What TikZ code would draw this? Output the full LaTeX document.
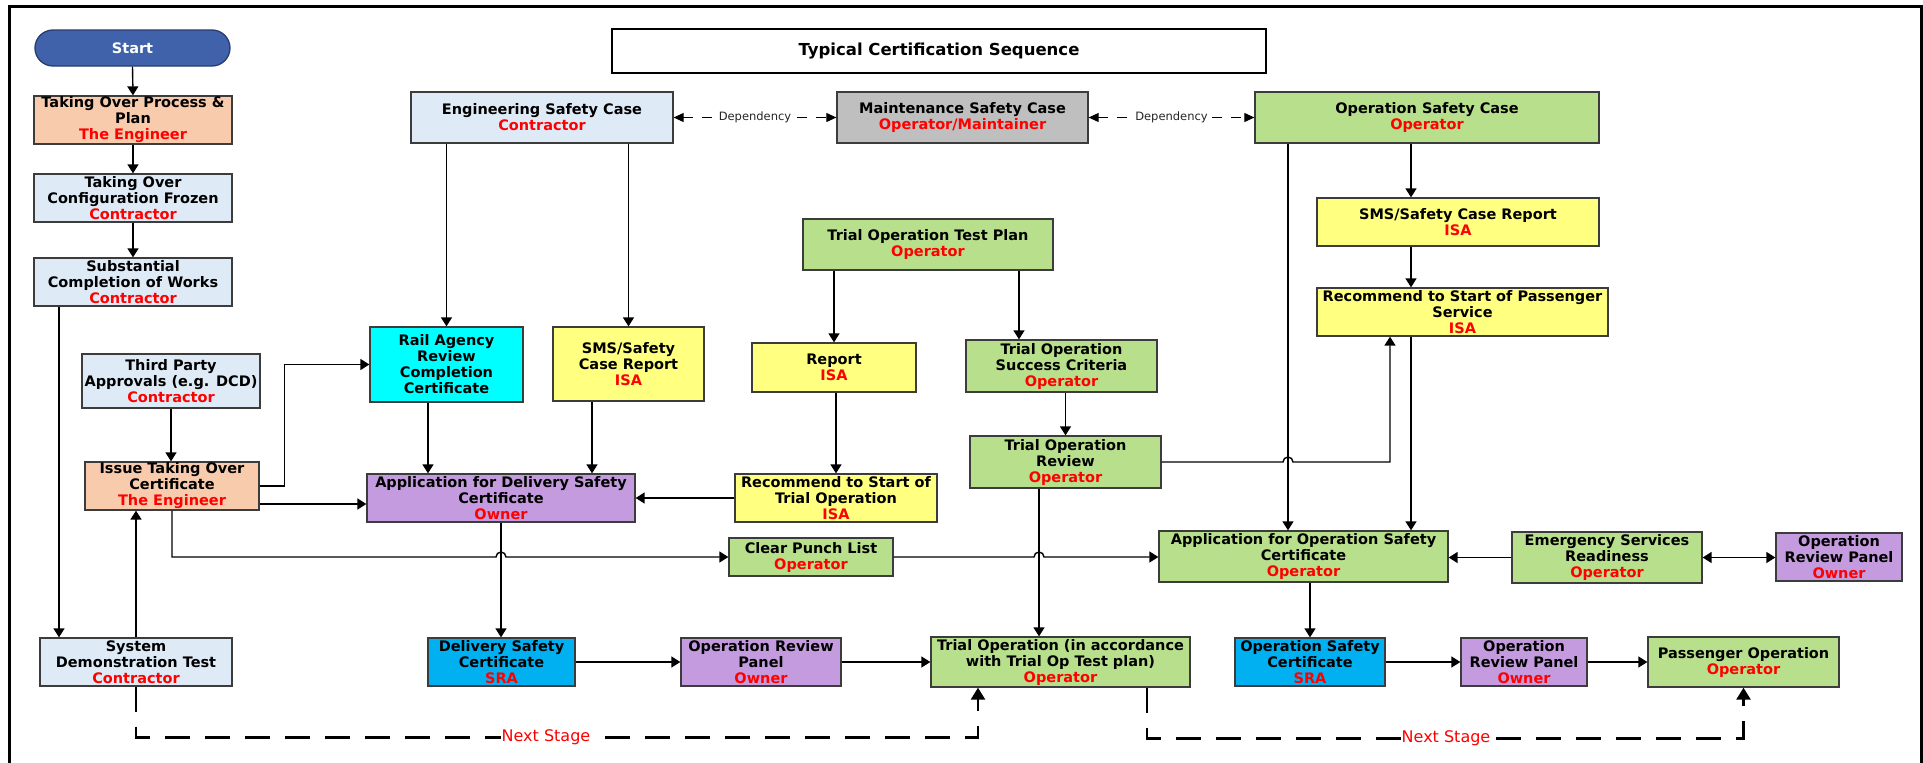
\documentclass[tikz,border=0pt]{standalone}
\usepackage{fontspec}
\setmainfont{DejaVu Sans}
\usetikzlibrary{arrows.meta,calc}
\definecolor{peach}{RGB}{248,203,173}
\definecolor{lblue}{RGB}{222,235,247}
\definecolor{cyanbox}{RGB}{0,255,255}
\definecolor{ybox}{RGB}{255,255,128}
\definecolor{pbox}{RGB}{195,155,222}
\definecolor{gbox}{RGB}{184,224,140}
\definecolor{graybox}{RGB}{191,191,191}
\definecolor{certblue}{RGB}{0,176,240}
\definecolor{startblue}{RGB}{64,98,170}
\definecolor{startline}{RGB}{40,60,110}
\definecolor{boxline}{RGB}{60,60,60}
\newcommand{\who}[1]{\textcolor{red}{#1}}
\tikzset{
  box/.style={draw=boxline, line width=1.3pt, inner sep=0pt, align=center,
    font=\fontsize{14.5}{16}\selectfont\bfseries},
  arr/.style={line width=1.4pt, -{Triangle[length=9pt,width=11pt]}},
  darr/.style={line width=1.4pt, {Triangle[length=9pt,width=11pt]}-{Triangle[length=9pt,width=11pt]}},
  dep/.style={line width=1pt, dash pattern=on 10pt off 9pt,
    {Triangle[length=10pt,width=9pt]}-{Triangle[length=10pt,width=9pt]}},
  deptext/.style={fill=white, inner xsep=1pt, inner ysep=1pt, text=black!85,
    font=\fontsize{11.5}{13}\selectfont},
  nextstage/.style={line width=2.5pt, dash pattern=on 25pt off 15pt,
    -{Triangle[length=12pt,width=14pt]}},
  nstext/.style={fill=white, inner xsep=1pt, inner ysep=1pt, text=red,
    font=\fontsize{16}{18}\selectfont},
}
\begin{document}
\begin{tikzpicture}[x=1pt,y=-1pt]
\useasboundingbox (0,0) rectangle (1923,763);
% outer frame
\draw[line width=3pt] (9.5,775) -- (9.5,6) -- (1921,6) -- (1921,775);

% title
\node[draw, line width=2.5pt, minimum width=654pt, minimum height=44pt, inner sep=0pt,
  font=\fontsize{16.5}{18}\selectfont\bfseries] (title) at (939,51) {Typical Certification Sequence};

% left column
\node[draw=startline, line width=1.3pt, fill=startblue, rounded corners=18pt,
  minimum width=195pt, minimum height=36pt, inner sep=0pt, text=white,
  font=\fontsize{14.5}{16}\selectfont\bfseries] (start) at (132.5,48) {Start};
\node[box, fill=peach, minimum width=198pt, minimum height=48pt] (topp) at (133,120)
  {Taking Over Process \&\\Plan\\\who{The Engineer}};
\node[box, fill=lblue, minimum width=198pt, minimum height=48pt] (tocf) at (133,198)
  {Taking Over\\Configuration Frozen\\\who{Contractor}};
\node[box, fill=lblue, minimum width=198pt, minimum height=48pt] (scw) at (133,282)
  {Substantial\\Completion of Works\\\who{Contractor}};
\node[box, fill=lblue, minimum width=178pt, minimum height=54pt] (tpa) at (171,381)
  {Third Party\\Approvals (e.g. DCD)\\\who{Contractor}};
\node[box, fill=peach, minimum width=174pt, minimum height=48pt] (itoc) at (172,486)
  {Issue Taking Over\\Certificate\\\who{The Engineer}};
\node[box, fill=lblue, minimum width=192pt, minimum height=48pt] (sdt) at (136,662)
  {System\\Demonstration Test\\\who{Contractor}};

% top row
\node[box, fill=lblue, minimum width=262pt, minimum height=51pt] (eng) at (542,117.5)
  {Engineering Safety Case\\\who{Contractor}};
\node[box, fill=graybox, minimum width=251pt, minimum height=51pt] (maint) at (962.5,117.5)
  {Maintenance Safety Case\\\who{Operator/Maintainer}};
\node[box, fill=gbox, minimum width=344pt, minimum height=51pt] (osc) at (1427,117.5)
  {Operation Safety Case\\\who{Operator}};

% middle
\node[box, fill=cyanbox, minimum width=153pt, minimum height=75pt] (rail) at (446.5,364.5)
  {Rail Agency\\Review\\Completion\\Certificate};
\node[box, fill=ybox, minimum width=151pt, minimum height=74pt] (sms1) at (628.5,364)
  {SMS/Safety\\Case Report\\\who{ISA}};
\node[box, fill=gbox, minimum width=250pt, minimum height=51pt] (totp) at (928,244.5)
  {Trial Operation Test Plan\\\who{Operator}};
\node[box, fill=ybox, minimum width=164pt, minimum height=49pt] (report) at (834,367.5)
  {Report\\\who{ISA}};
\node[box, fill=gbox, minimum width=191pt, minimum height=52pt] (tosc) at (1061.5,366)
  {Trial Operation\\Success Criteria\\\who{Operator}};
\node[box, fill=ybox, minimum width=282pt, minimum height=48pt] (sms2) at (1458,222)
  {SMS/Safety Case Report\\\who{ISA}};
\node[box, fill=ybox, minimum width=291pt, minimum height=48pt] (rsps) at (1462.5,312)
  {Recommend to Start of Passenger\\Service\\\who{ISA}};
\node[box, fill=pbox, minimum width=268pt, minimum height=48pt] (appdel) at (501,498)
  {Application for Delivery Safety\\Certificate\\\who{Owner}};
\node[box, fill=ybox, minimum width=202pt, minimum height=48pt] (rsto) at (836,498)
  {Recommend to Start of\\Trial Operation\\\who{ISA}};
\node[box, fill=gbox, minimum width=191pt, minimum height=52pt] (tor) at (1065.5,462)
  {Trial Operation\\Review\\\who{Operator}};
\node[box, fill=gbox, minimum width=164pt, minimum height=38pt] (cpl) at (811,557)
  {Clear Punch List\\\who{Operator}};
\node[box, fill=gbox, minimum width=289pt, minimum height=51pt] (aosc) at (1303.5,556.5)
  {Application for Operation Safety\\Certificate\\\who{Operator}};
\node[box, fill=gbox, minimum width=190pt, minimum height=51pt] (esr) at (1607,557.5)
  {Emergency Services\\Readiness\\\who{Operator}};
\node[box, fill=pbox, minimum width=126pt, minimum height=48pt] (orp3) at (1839,557)
  {Operation\\Review Panel\\\who{Owner}};

% bottom row
\node[box, fill=certblue, minimum width=147pt, minimum height=48pt] (dsc) at (501.5,662)
  {Delivery Safety\\Certificate\\\who{SRA}};
\node[box, fill=pbox, minimum width=160pt, minimum height=48pt] (orp1) at (761,662)
  {Operation Review\\Panel\\\who{Owner}};
\node[box, fill=gbox, minimum width=259pt, minimum height=50pt] (trialop) at (1060.5,662)
  {Trial Operation (in accordance\\with Trial Op Test plan)\\\who{Operator}};
\node[box, fill=certblue, minimum width=150pt, minimum height=48pt] (oscert) at (1310,662)
  {Operation Safety\\Certificate\\\who{SRA}};
\node[box, fill=pbox, minimum width=126pt, minimum height=48pt] (orp2) at (1524,662)
  {Operation\\Review Panel\\\who{Owner}};
\node[box, fill=gbox, minimum width=191pt, minimum height=50pt] (po) at (1743.5,662)
  {Passenger Operation\\\who{Operator}};

% helper coordinates on node edges
\coordinate (oscL) at ([xshift=-139pt]osc.south);
\coordinate (oscM) at ([xshift=-16pt]osc.south);
\coordinate (torL) at ([xshift=-26.5pt]tor.south);

% left column connectors
\draw[arr] (start.south) -- (topp.north);
\draw[arr] (topp.south) -- (tocf.north);
\draw[arr] (tocf.south) -- (scw.north);
\draw[arr] ([xshift=-74pt]scw.south) -- ([xshift=-74pt]scw.south |- sdt.north);
\draw[arr] (tpa.south) -- (tpa.south |- itoc.north);
\draw[arr] (sdt.north) -- (sdt.north |- itoc.south);
\draw[arr] (itoc.east) -- ++(25,0) |- (rail.west);
\draw[arr] ([yshift=-18pt]itoc.east) -- ([yshift=-18pt]itoc.east -| appdel.west);
\draw[arr] (itoc.south) -- (itoc.south |- cpl.west)
  -- ([xshift=-5pt]appdel.south |- cpl.west) arc[start angle=180,end angle=0,radius=5pt]
  -- (cpl.west);

% engineering branch
\draw[arr] (rail.north |- eng.south) -- (rail.north);
\draw[arr] (sms1.north |- eng.south) -- (sms1.north);
\draw[arr] ([xshift=-18.5pt]rail.south) -- ([xshift=-18.5pt]rail.south |- appdel.north);
\draw[arr] ([xshift=-36.5pt]sms1.south) -- ([xshift=-36.5pt]sms1.south |- appdel.north);
\draw[arr] (appdel.south) -- (appdel.south |- dsc.north);

% trial operation branch
\draw[arr] (report.north |- totp.south) -- (report.north);
\draw[arr] ([xshift=-42.5pt]tosc.north |- totp.south) -- ([xshift=-42.5pt]tosc.north);
\draw[arr] (rsto.north |- report.south) -- (rsto.north);
\draw[arr] (rsto.west) -- (rsto.west -| appdel.east);
\draw[arr] (tor.north |- tosc.south) -- (tor.north);
\draw[arr] (torL) -- (torL |- trialop.north);
\draw[arr] (tor.east) -- ([xshift=-5pt]oscL |- tor.east) arc[start angle=180,end angle=0,radius=5pt]
  -- ([xshift=-72.5pt]rsps.south |- tor.east) -- ([xshift=-72.5pt]rsps.south);
\draw[arr] (cpl.east) -- ([xshift=-5pt]torL |- cpl.east) arc[start angle=180,end angle=0,radius=5pt]
  -- (cpl.east -| aosc.west);

% operation branch
\draw[arr] (oscL) -- (oscL |- aosc.north);
\draw[arr] (oscM) -- (oscM |- sms2.north);
\draw[arr] (oscM |- sms2.south) -- (oscM |- rsps.north);
\draw[arr] (oscM |- rsps.south) -- (oscM |- aosc.north);
\draw[arr] (oscert.north |- aosc.south) -- (oscert.north);
\draw[arr] (esr.west) -- (esr.west -| aosc.east);
\draw[darr] (esr.east) -- (esr.east -| orp3.west);

% bottom row
\draw[arr] (dsc.east) -- (dsc.east -| orp1.west);
\draw[arr] (orp1.east) -- (orp1.east -| trialop.west);
\draw[arr] (oscert.east) -- (oscert.east -| orp2.west);
\draw[arr] (orp2.east) -- (orp2.east -| po.west);

% dependencies
\draw[dep] (eng.east) -- (maint.west);
\node[deptext] (dep1) at ($(eng.east)!0.5!(maint.west)$) {Dependency};
\draw[dep] (maint.east) -- (osc.west);
\node[deptext] (dep2) at ($(maint.east)!0.5!(osc.west)$) {Dependency};

% next stage
\draw[nextstage] (sdt.south) -- ++(0,51) -| ([xshift=-82.5pt]trialop.south);
\node[nstext] (ns1) at (546,737) {Next Stage};
\draw[nextstage] ([xshift=86.5pt]trialop.south) -- ++(0,51) -| (po.south);
\node[nstext] (ns2) at (1446,738) {Next Stage};
\end{tikzpicture}
\end{document}
